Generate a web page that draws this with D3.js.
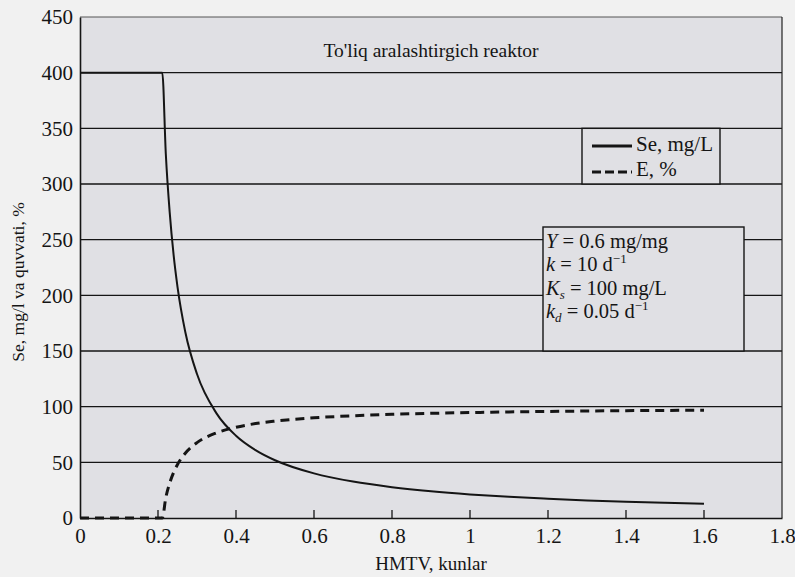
<!DOCTYPE html>
<html>
<head>
<meta charset="utf-8">
<script src="https://cdn.jsdelivr.net/npm/d3@7"></script>
<style>
  body { margin: 0; background: #f1f1f1; }
  svg { display: block; }
</style>
</head>
<body>
<svg id="chart" width="795" height="577"></svg>
<script>
// Hydraulic retention time, days
const hmtv = [0, 0.2, 0.211, 0.22, 0.23, 0.24, 0.25, 0.27, 0.3, 0.35, 0.4, 0.45, 0.5,
              0.6, 0.7, 0.8, 0.9, 1.0, 1.1, 1.2, 1.3, 1.4, 1.5, 1.6];
// Effluent substrate Se, mg/L
const seValues = [400, 400, 400, 327.2, 274.5, 236.4, 207.7, 167.1, 129.3, 94.0, 73.9, 61.0, 51.9,
                  40.1, 32.7, 27.7, 24.0, 21.2, 19.0, 17.3, 15.8, 14.6, 13.6, 12.7];
// Treatment efficiency E, %
const effValues = [0, 0, 0, 18.2, 31.4, 40.9, 48.1, 58.2, 67.7, 76.5, 81.5, 84.8, 87.0,
                   90.0, 91.8, 93.1, 94.0, 94.7, 95.3, 95.7, 96.1, 96.4, 96.6, 96.8];

const xTicks = [0, 0.2, 0.4, 0.6, 0.8, 1, 1.2, 1.4, 1.6, 1.8];
const yTicks = [0, 50, 100, 150, 200, 250, 300, 350, 400, 450];

const titleText = "To'liq aralashtirgich reaktor";
const xLabel = "HMTV, kunlar";
const yLabel = "Se, mg/l va quvvati, %";
const legendLabels = ["Se, mg/L", "E, %"];

const FONT = "'Liberation Serif', 'Times New Roman', Times, 'DejaVu Serif', serif";
const INK = "#151515";
const PANEL = "#e0e0e4";

const svg = d3.select("#chart").attr("font-family", FONT);
const plotLeft = 80, plotRight = 782, plotTop = 17, plotBottom = 518;

const x = d3.scaleLinear().domain([0, 1.8]).range([plotLeft, plotRight]);
const y = d3.scaleLinear().domain([0, 450]).range([plotBottom, plotTop]);

// plot background
svg.append("rect")
  .attr("x", plotLeft).attr("y", plotTop)
  .attr("width", plotRight - plotLeft).attr("height", plotBottom - plotTop)
  .attr("fill", PANEL);

// horizontal grid lines
svg.append("g").selectAll("line")
  .data(yTicks.filter(d => d > 0 && d < 450))
  .join("line")
  .attr("x1", plotLeft).attr("x2", plotRight)
  .attr("y1", d => y(d)).attr("y2", d => y(d))
  .attr("stroke", INK).attr("stroke-width", 1.4);

// top frame line
svg.append("line")
  .attr("x1", plotLeft).attr("x2", plotRight)
  .attr("y1", y(450)).attr("y2", y(450))
  .attr("stroke", "#555").attr("stroke-width", 1);

// right frame line
svg.append("line")
  .attr("x1", plotRight).attr("x2", plotRight)
  .attr("y1", plotTop).attr("y2", plotBottom)
  .attr("stroke", "#222").attr("stroke-width", 1.2);

// x axis with short inward ticks
const xAxis = d3.axisBottom(x)
  .tickValues(xTicks)
  .tickSize(0)
  .tickPadding(10)
  .tickFormat(d => d3.format("")(d));
const gx = svg.append("g").attr("transform", `translate(0,${plotBottom})`).call(xAxis);
gx.attr("font-family", FONT).attr("font-size", 21);
gx.select(".domain").attr("stroke", INK).attr("stroke-width", 1.6);
gx.selectAll("text").attr("fill", INK);
svg.append("g").selectAll("line")
  .data(xTicks.filter(d => d > 0 && d < 1.8))
  .join("line")
  .attr("x1", d => x(d)).attr("x2", d => x(d))
  .attr("y1", plotBottom).attr("y2", plotBottom - 8)
  .attr("stroke", INK).attr("stroke-width", 1.3);

// y axis
const yAxis = d3.axisLeft(y)
  .tickValues(yTicks)
  .tickSize(0)
  .tickPadding(7);
const gy = svg.append("g").attr("transform", `translate(${plotLeft},0)`).call(yAxis);
gy.attr("font-family", FONT).attr("font-size", 21);
gy.select(".domain").attr("stroke", INK).attr("stroke-width", 1.6);
gy.selectAll("text").attr("fill", INK);

// series
const seData = hmtv.map((t, i) => ({ t, v: seValues[i] }));
const effData = hmtv.map((t, i) => ({ t, v: effValues[i] }));
const line = d3.line().x(d => x(d.t)).y(d => y(d.v)).curve(d3.curveMonotoneX);

svg.append("path").datum(seData)
  .attr("d", line)
  .attr("fill", "none").attr("stroke", INK).attr("stroke-width", 2);

svg.append("path").datum(effData)
  .attr("d", line)
  .attr("fill", "none").attr("stroke", INK).attr("stroke-width", 3)
  .attr("stroke-dasharray", "9,6");

// title
svg.append("text")
  .attr("x", x(0.9)).attr("y", 57)
  .attr("text-anchor", "middle")
  .attr("font-size", 19.5).attr("fill", INK)
  .text(titleText);

// axis titles
svg.append("text")
  .attr("x", x(0.9)).attr("y", 570)
  .attr("text-anchor", "middle")
  .attr("font-size", 19).attr("fill", INK)
  .text(xLabel);

svg.append("text")
  .attr("transform", "translate(24,282) rotate(-90)")
  .attr("text-anchor", "middle")
  .attr("font-size", 17.5).attr("fill", INK)
  .text(yLabel);

// legend
const lg = svg.append("g");
lg.append("rect")
  .attr("x", 582).attr("y", y(350)).attr("width", 138).attr("height", y(300) - y(350))
  .attr("fill", PANEL).attr("stroke", INK).attr("stroke-width", 1.4);
lg.append("line")
  .attr("x1", 592).attr("x2", 632).attr("y1", 146).attr("y2", 146)
  .attr("stroke", INK).attr("stroke-width", 3);
lg.append("line")
  .attr("x1", 592).attr("x2", 632).attr("y1", 172).attr("y2", 172)
  .attr("stroke", INK).attr("stroke-width", 3.2).attr("stroke-dasharray", "9,4");
lg.selectAll("text.item")
  .data(legendLabels)
  .join("text")
  .attr("class", "item")
  .attr("x", 636).attr("y", (d, i) => 151 + i * 25)
  .attr("font-size", 21).attr("fill", INK)
  .text(d => d);

// model parameters box
const pb = svg.append("g");
pb.append("rect")
  .attr("x", 543).attr("y", 227).attr("width", 201).attr("height", y(150) - 227)
  .attr("fill", PANEL).attr("stroke", INK).attr("stroke-width", 1.4);

// each part: text, italic, vertical shift (sub > 0, sup < 0)
const params = [
  [["Y", true, 0], [" = 0.6 mg/mg", false, 0]],
  [["k", true, 0], [" = 10 d", false, 0], ["−1", false, -8]],
  [["K", true, 0], ["s", true, 4], [" = 100 mg/L", false, 0]],
  [["k", true, 0], ["d", true, 4], [" = 0.05 d", false, 0], ["−1", false, -8]]
];
params.forEach((row, r) => {
  const txt = pb.append("text")
    .attr("x", 546).attr("y", 248 + r * 23.4)
    .attr("font-size", 20.5).attr("fill", INK);
  let prev = 0;
  row.forEach(([t, it, shift]) => {
    const ts = txt.append("tspan").text(t).attr("dy", shift - prev);
    if (it) ts.attr("font-style", "italic");
    if (shift !== 0) ts.attr("font-size", 13);
    prev = shift;
  });
});
</script>
</body>
</html>
